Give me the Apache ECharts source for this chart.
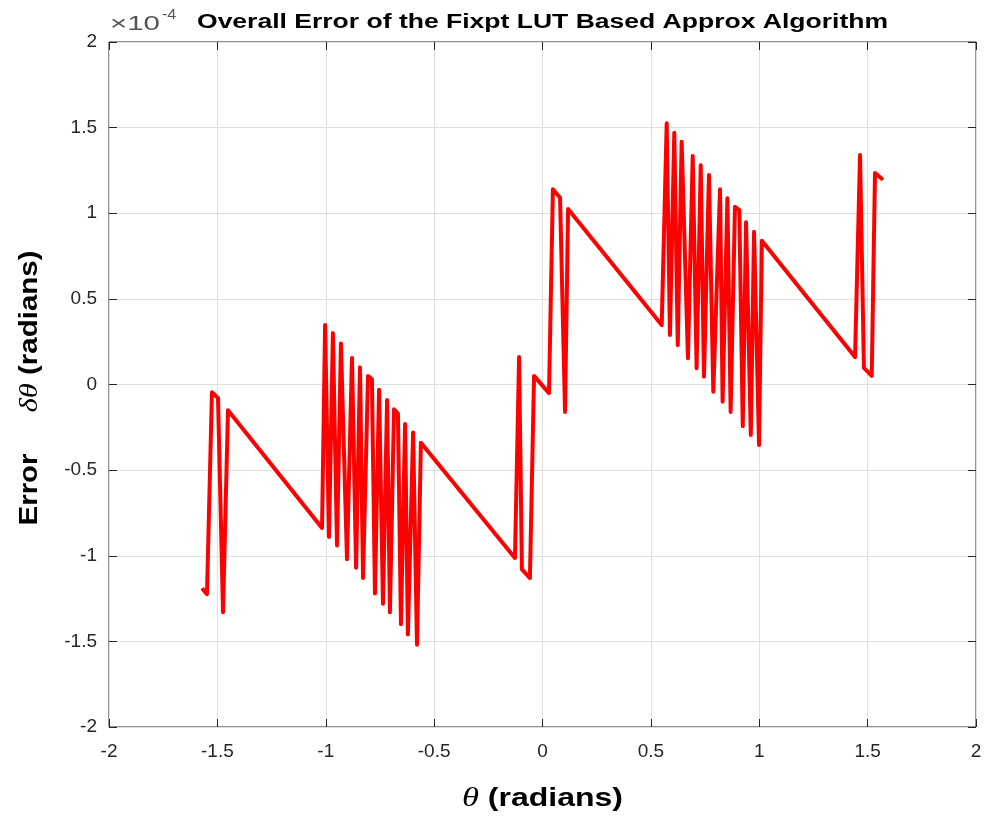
<!DOCTYPE html>
<html>
<head>
<meta charset="utf-8">
<script src="https://cdn.jsdelivr.net/npm/echarts@6/dist/echarts.min.js"></script>
<style>html,body{margin:0;padding:0;background:#fff}#c{width:987px;height:818px}</style>
</head>
<body>
<div id="c"></div>
<script>
// theta (radians)
var theta = [-1.5708, -1.548, -1.525, -1.497, -1.474, -1.451,
  -1.017, -1.003, -0.985, -0.967, -0.948, -0.930, -0.902, -0.879, -0.860, -0.842, -0.828, -0.805, -0.787, -0.773, -0.754, -0.736, -0.717, -0.704, -0.685, -0.667, -0.653, -0.634, -0.621, -0.597, -0.579, -0.561,
  -0.127, -0.108, -0.095, -0.058, -0.039, 0.030, 0.048, 0.081, 0.104, 0.118,
  0.550, 0.573, 0.588, 0.608, 0.624, 0.642, 0.671, 0.693, 0.711, 0.730, 0.745, 0.768, 0.788, 0.819, 0.831, 0.853, 0.868, 0.888, 0.908, 0.924, 0.939, 0.961, 0.976, 0.999, 1.012,
  1.442, 1.465, 1.483, 1.519, 1.534, 1.5708];
// error (x 1e-4 radians)
var err = [-1.19, -1.224, -0.045, -0.08, -1.33, -0.15,
  -0.838, 0.347, -0.89, 0.30, -0.94, 0.24, -1.02, 0.155, -1.07, 0.10, -1.13, 0.05, 0.03, -1.22, -0.03, -1.28, -0.09, -1.33, -0.145, -0.17, -1.40, -0.23, -1.46, -0.28, -1.52, -0.34,
  -1.013, 0.16, -1.08, -1.13, 0.05, -0.05, 1.14, 1.09, -0.16, 1.025,
  0.347, 1.525, 0.289, 1.47, 0.23, 1.418, 0.153, 1.334, 0.095, 1.28, 0.046, 1.223, -0.042, 1.14, -0.10, 1.087, -0.16, 1.038, 1.019, -0.243, 0.947, -0.295, 0.892, -0.353, 0.84,
  0.16, 1.34, 0.097, 0.05, 1.235, 1.195];
var xTicks = [-2, -1.5, -1, -0.5, 0, 0.5, 1, 1.5, 2];
var yTicks = [-2, -1.5, -1, -0.5, 0, 0.5, 1, 1.5, 2];
var titleText = 'Overall Error of the Fixpt LUT Based Approx Algorithm';
var xName = ['θ', ' (radians)'];
var yName = ['Error', '     ', 'δθ', ' (radians)'];
var expBase = '×10';
var expPow = '-4';

var pts = theta.map(function (t, i) { return [t, err[i]]; });
var FONT = 'Liberation Sans, Arial, Helvetica, sans-serif';
var SERIF = 'Liberation Serif, DejaVu Serif, serif';
var AX = '#262626';

var mctx = document.createElement('canvas').getContext('2d');
function w(font, s) { mctx.font = font; return mctx.measureText(s).width; }

var titleFont = 'bold 20px ' + FONT;
var titleScale = 691 / w(titleFont, titleText);

var xnW = w('italic 27px ' + SERIF, xName[0]) + w('bold 25px ' + FONT, xName[1]);
var xnScale = 161 / xnW;
var ynW = w('bold 25px ' + FONT, yName[0]) + w('bold 25px ' + FONT, yName[1]) + w('italic 26px ' + SERIF, yName[2]) + w('bold 25px ' + FONT, yName[3]);
var ynScale = 275 / ynW;
var baseFont = '20px ' + FONT;
var baseScale = 50 / w(baseFont, expBase);
var powFont = '14px ' + FONT;

var chart = echarts.init(document.getElementById('c'), null, {renderer: 'canvas'});
var tickStyle = {show: true, inside: true, length: 8, lineStyle: {color: AX, width: 1}};
var noLine = {show: false, onZero: false};
chart.setOption({
  animation: false,
  grid: {left: 109, top: 42, width: 867, height: 685, show: true, borderColor: AX, borderWidth: 1, backgroundColor: '#fff'},
  xAxis: [{
    type: 'value', min: xTicks[0], max: xTicks[xTicks.length - 1], interval: 0.5,
    axisLine: noLine, axisTick: tickStyle,
    axisLabel: {color: AX, fontSize: 19, fontFamily: FONT, margin: 15},
    splitLine: {show: true, lineStyle: {color: '#dfdfdf', width: 1}}
  }, {
    type: 'value', position: 'top', min: xTicks[0], max: xTicks[xTicks.length - 1], interval: 0.5,
    axisLine: noLine, axisTick: tickStyle, axisLabel: {show: false}, splitLine: {show: false}
  }],
  yAxis: [{
    type: 'value', min: yTicks[0], max: yTicks[yTicks.length - 1], interval: 0.5,
    axisLine: noLine, axisTick: tickStyle,
    axisLabel: {color: AX, fontSize: 19, fontFamily: FONT, margin: 12},
    splitLine: {show: true, lineStyle: {color: '#dfdfdf', width: 1}}
  }, {
    type: 'value', position: 'right', min: yTicks[0], max: yTicks[yTicks.length - 1], interval: 0.5,
    axisLine: noLine, axisTick: tickStyle, axisLabel: {show: false}, splitLine: {show: false}
  }],
  graphic: [{
    type: 'text', x: 542.5, y: 22, scaleX: titleScale,
    style: {text: titleText, font: titleFont, fill: '#000', align: 'center', verticalAlign: 'middle'}
  }, {
    type: 'text', x: 110, y: 34, scaleX: baseScale,
    style: {text: expBase, font: baseFont, fill: '#555', align: 'left', verticalAlign: 'bottom'}
  }, {
    type: 'text', x: 162, y: 22, scaleX: 1.15,
    style: {text: expPow, font: powFont, fill: '#555', align: 'left', verticalAlign: 'bottom'}
  }, {
    type: 'text', x: 542.5, y: 799, scaleX: xnScale,
    style: {
      text: '{i|' + xName[0] + '}{b|' + xName[1] + '}', align: 'center', verticalAlign: 'middle',
      rich: {
        i: {fontFamily: SERIF, fontStyle: 'italic', fontSize: 27, color: AX},
        b: {fontFamily: FONT, fontWeight: 'bold', fontSize: 25, color: AX}
      }
    }
  }, {
    type: 'text', x: 30, y: 388, rotation: Math.PI / 2, scaleX: ynScale,
    style: {
      text: '{b|' + yName[0] + '}{b|' + yName[1] + '}{i|' + yName[2] + '}{b|' + yName[3] + '}', align: 'center', verticalAlign: 'middle',
      rich: {
        i: {fontFamily: SERIF, fontStyle: 'italic', fontSize: 26, color: AX},
        b: {fontFamily: FONT, fontWeight: 'bold', fontSize: 25, color: AX}
      }
    }
  }],
  series: [{
    type: 'line', data: pts, showSymbol: false, symbol: 'none',
    lineStyle: {color: '#ff0000', width: 4, join: 'round'},
    clip: true
  }]
});
</script>
</body>
</html>
